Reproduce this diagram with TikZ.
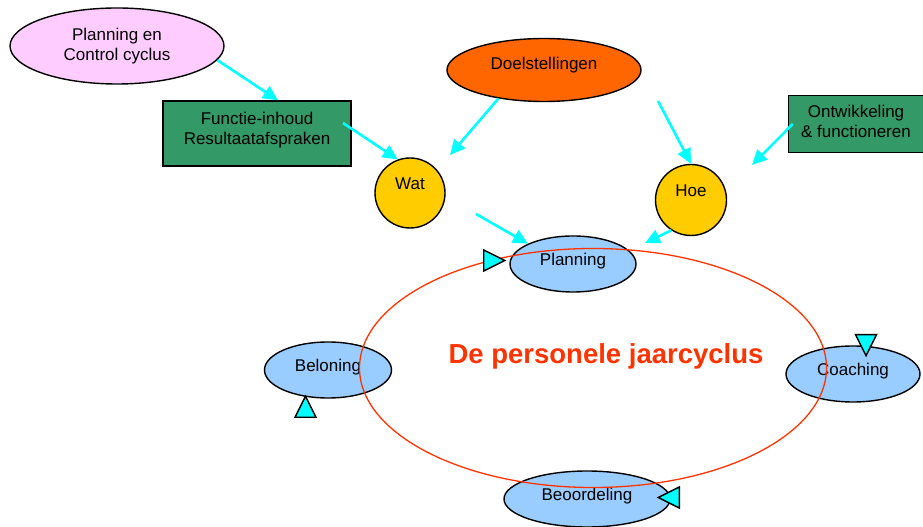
\documentclass[tikz,border=0pt]{standalone}
\usepackage{fontspec}
\setmainfont{Liberation Sans}
\usetikzlibrary{shapes.geometric,arrows.meta}
\definecolor{pinkfill}{HTML}{FFCCFF}
\definecolor{greenfill}{HTML}{339966}
\definecolor{yellowfill}{HTML}{FFCC00}
\definecolor{orangefill}{HTML}{FF6600}
\definecolor{bluefill}{HTML}{99CCFF}
\definecolor{cyclered}{HTML}{FF3300}
\definecolor{pointcyan}{HTML}{00FFFF}
\begin{document}
\begin{tikzpicture}[x=1pt,y=1pt,
	main node/.style = {draw, line width=1.4pt, align=center, inner sep=0pt, font=\fontsize{17}{20}\selectfont},
	pink node/.style = {main node, ellipse, fill=pinkfill, minimum width=214pt, minimum height=76pt},
	green node/.style = {main node, rectangle, fill=greenfill},
	ask node/.style = {main node, circle, fill=yellowfill, minimum size=70pt, text depth=19pt},
	goal node/.style = {main node, ellipse, fill=orangefill, minimum width=194pt, minimum height=63pt, text depth=14pt},
	phase node/.style = {main node, ellipse, fill=bluefill, minimum width=126pt, minimum height=56pt, text depth=9pt},
	ring/.style = {ellipse, draw=cyclered, line width=1.3pt, minimum width=467pt, minimum height=239pt},
	pointer/.style = {line width=2.6pt, color=pointcyan, -{Triangle[length=15pt,width=14pt]}},
	turn/.style = {isosceles triangle, isosceles triangle stretches, draw, line width=1.4pt, fill=pointcyan,
		minimum width=21pt, minimum height=21pt, inner sep=0pt, anchor=lower side}]
	\useasboundingbox (0,0) rectangle (923,527);
	
	\node[pink node] (pc) at (117,481) {Planning en\\Control cyclus};
	\node[green node, minimum width=188pt, minimum height=65pt, text depth=11pt] (fi) at (257,393.5) {Functie-inhoud\\Resultaatafspraken};
	\node[ask node] (wat) at (410,334) {Wat};
	\node[goal node] (doel) at (544,457) {Doelstellingen};
	\node[ask node, minimum size=71pt] (hoe) at (691,327) {Hoe};
	\node[green node, minimum width=135pt, minimum height=57pt, text depth=5pt] (ontw) at (856,403) {Ontwikkeling\\\& functioneren};
	
	\node[phase node] (plan) at (573,263) {Planning};
	\node[phase node, minimum width=127pt] (bel) at (328,157) {Beloning};
	\node[phase node, minimum width=134pt] (coach) at (853,153) {Coaching};
	\node[phase node, minimum width=166pt] (beoo) at (587,28) {Beoordeling};
	
	\node[ring] (cycle) at (593,159) {};
	\node[text=cyclered, font=\bfseries\fontsize{27.5}{30}\selectfont] (title) at (606,171) {De personele jaarcyclus};
	
	\coordinate (a2) at (343,404);
	\coordinate (a3) at (450,372);
	\coordinate (a4) at (658,426);
	\coordinate (a5) at (752,362);
	\coordinate (a6) at (645,284);
	\coordinate (a7) at (476,313);
	
	\path[pointer]
	(pc.-8) edge ([xshift=21pt]fi.north)
	(a2) edge (wat.110)
	(doel.212) edge (a3)
	(a4) edge (hoe.north)
	([xshift=5pt]ontw.west) edge (a5)
	(hoe.237) edge (a6)
	(a7) edge (plan.north west);
	
	\node[turn, shape border rotate=0] (t1) at (483,266.5) {};
	\node[turn, shape border rotate=270] (t2) at (866,193) {};
	\node[turn, shape border rotate=180] (t3) at (680,29.5) {};
	\node[turn, shape border rotate=90] (t4) at (305.5,109) {};
\end{tikzpicture}
\end{document}
